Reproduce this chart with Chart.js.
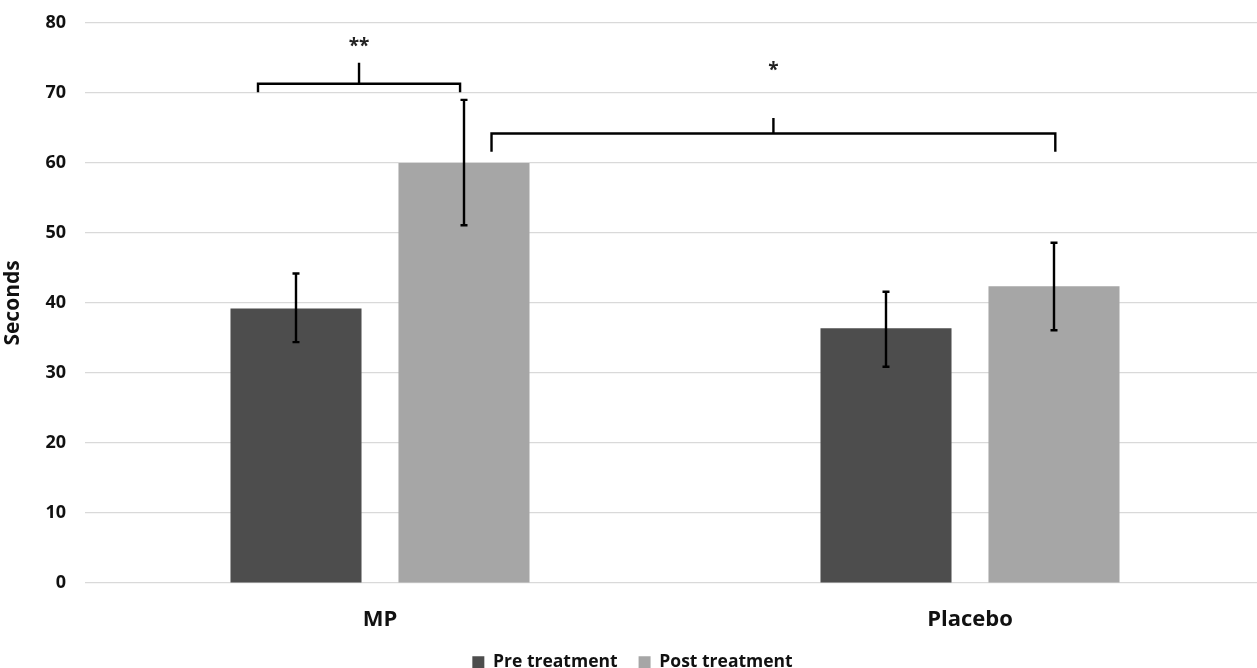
<!DOCTYPE html>
<html>
<head>
<meta charset="utf-8">
<script src="https://cdn.jsdelivr.net/npm/chart.js@4"></script>
<style>
  html, body { margin: 0; padding: 0; background: #fff; overflow: hidden; }
  #wrap { width: 1265px; height: 688px; margin-top: -7px; }
</style>
</head>
<body>
<div id="wrap"><canvas id="myChart"></canvas></div>
<script>
var ctx = document.getElementById('myChart').getContext('2d');

const groups = ['MP', 'Placebo'];
const seriesNames = ['Pre treatment', 'Post treatment'];
const preValues = [39.2, 36.4];
const postValues = [60.0, 42.4];
const preLow = [34.4, 30.9];
const preHigh = [44.2, 41.6];
const postLow = [51.1, 36.1];
const postHigh = [69.0, 48.6];
const yTicks = [0, 10, 20, 30, 40, 50, 60, 70, 80];

// significance brackets: from (series, group, shift in bar widths) to (series, group, shift)
const brackets = [
  { label: '**', from: [0, 0, -0.29], to: [1, 0, -0.03], y: 71.3, ends: 70.1, tick: 74.3, text: 76.6 },
  { label: '*', from: [1, 0, 0.21], to: [1, 1, 0.01], y: 64.2, ends: 61.6, tick: 66.4, text: 73.2 }
];

const fontFam = '"Open Sans", "DejaVu Sans", sans-serif';

const errorBars = {
  id: 'errorBars',
  afterDatasetsDraw(chart) {
    const c = chart.ctx;
    const y = chart.scales.y;
    const lows = [preLow, postLow];
    const highs = [preHigh, postHigh];
    c.save();
    c.strokeStyle = '#000';
    c.lineWidth = 2.4;
    chart.data.datasets.forEach(function (ds, i) {
      chart.getDatasetMeta(i).data.forEach(function (bar, j) {
        const x = bar.x;
        const yl = y.getPixelForValue(lows[i][j]);
        const yh = y.getPixelForValue(highs[i][j]);
        c.beginPath();
        c.moveTo(x, yl); c.lineTo(x, yh);
        c.moveTo(x - 3.5, yl); c.lineTo(x + 3.5, yl);
        c.moveTo(x - 3.5, yh); c.lineTo(x + 3.5, yh);
        c.stroke();
      });
    });
    // brackets
    function px(p) {
      const bar = chart.getDatasetMeta(p[0]).data[p[1]];
      return bar.x + p[2] * bar.width;
    }
    c.lineWidth = 2.4;
    c.fillStyle = '#222';
    c.textAlign = 'center';
    c.textBaseline = 'middle';
    c.font = 'bold 19px ' + fontFam;
    brackets.forEach(function (b) {
      const x1 = px(b.from), x2 = px(b.to);
      const yy = y.getPixelForValue(b.y);
      const ye = y.getPixelForValue(b.ends);
      const yt = y.getPixelForValue(b.tick);
      const xm = (x1 + x2) / 2;
      c.beginPath();
      c.moveTo(x1, ye); c.lineTo(x1, yy); c.lineTo(x2, yy); c.lineTo(x2, ye);
      c.moveTo(xm, yy); c.lineTo(xm, yt);
      c.stroke();
      c.fillText(b.label, xm, y.getPixelForValue(b.text));
    });
    c.restore();
  }
};

var myChart = new Chart(ctx, {
    type: 'bar',
    data: {
        labels: groups,
        datasets: [{
            label: seriesNames[0],
            data: preValues,
            backgroundColor: '#4d4d4d',
            barPercentage: 0.78,
            categoryPercentage: 0.5695
        }, {
            label: seriesNames[1],
            data: postValues,
            backgroundColor: '#a6a6a6',
            barPercentage: 0.78,
            categoryPercentage: 0.5695
        }]
    },
    options: {
        responsive: true,
        maintainAspectRatio: false,
        animation: false,
        layout: { padding: { top: 0, right: 0, left: 0, bottom: 0 } },
        plugins: {
            legend: {
                position: 'bottom',
                labels: {
                    boxWidth: 12, boxHeight: 12, padding: 21,
                    color: '#111',
                    font: { family: fontFam, size: 17.5, weight: 'bold' }
                }
            },
            tooltip: { enabled: false }
        },
        scales: {
            x: {
                afterFit(scale) { scale.height -= 15; },
                grid: { display: false },
                border: { display: false },
                ticks: { color: '#111', padding: 15, font: { family: fontFam, size: 22, weight: 'bold' } }
            },
            y: {
                min: 0, max: 80,
                afterBuildTicks(scale) { scale.ticks = yTicks.map(v => ({ value: v })); },
                afterFit(scale) { scale.width = 85; },
                grid: { color: '#d9d9d9', lineWidth: 1.3, drawTicks: false },
                border: { display: false },
                ticks: { color: '#111', padding: 19, font: { family: fontFam, size: 18, weight: 'bold' } },
                title: { display: true, text: 'Seconds', color: '#111', padding: 0, font: { family: fontFam, size: 21, weight: 'bold' } }
            }
        }
    },
    plugins: [errorBars]
});
</script>
</body>
</html>
